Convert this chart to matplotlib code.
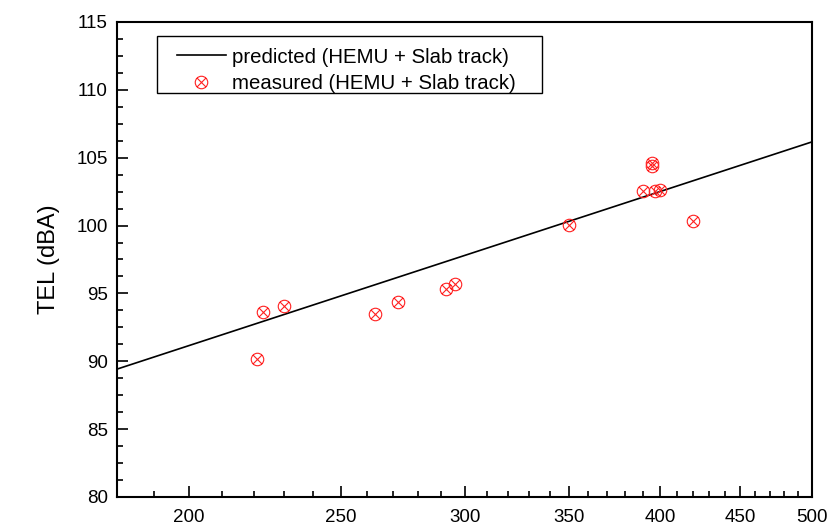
import matplotlib
matplotlib.use("Agg")
import matplotlib.pyplot as plt
from matplotlib.patches import Rectangle
from matplotlib.path import Path
from matplotlib.ticker import FixedLocator, MultipleLocator, AutoMinorLocator, NullFormatter

plt.rcParams["font.family"] = ["Liberation Sans", "DejaVu Sans"]

# predicted line (straight on log speed axis)
pred_speed = [180, 500]
pred_tel = [89.43, 106.16]

# measured points
meas_speed = [221, 223, 230, 263, 272, 292, 296, 350, 390, 397, 400, 395, 395, 420]
meas_tel = [90.2, 93.6, 94.05, 93.45, 94.35, 95.35, 95.7, 100.05, 102.55, 102.55, 102.65,
            104.6, 104.4, 100.35]

x_ticks = [200, 250, 300, 350, 400, 450, 500]
x_minor = list(range(180, 501, 10))


def circle_x_marker():
    d = 0.7071
    cross = Path([(-d, -d), (d, d), (-d, d), (d, -d)],
                 [Path.MOVETO, Path.LINETO, Path.MOVETO, Path.LINETO])
    return Path.make_compound_path(Path.unit_circle(), cross)


def main():
    fig = plt.figure(figsize=(8.37, 5.30), dpi=100)
    ax = fig.add_axes([0.1402, 0.0623, 0.8296, 0.8962])

    ax.plot(pred_speed, pred_tel, color="black", lw=1.2,
            label="predicted (HEMU + Slab track)")
    ax.plot(meas_speed, meas_tel, linestyle="none", marker=circle_x_marker(),
            markersize=9, markerfacecolor="none", markeredgecolor="#ff2020",
            markeredgewidth=0.8, label="measured (HEMU + Slab track)")

    ax.set_xscale("log")
    ax.set_xlim(180, 500)
    ax.set_ylim(80, 115)
    ax.xaxis.set_major_locator(FixedLocator(x_ticks))
    ax.xaxis.set_minor_locator(FixedLocator(x_minor))
    ax.set_xticklabels([str(t) for t in x_ticks])
    ax.xaxis.set_minor_formatter(NullFormatter())
    ax.yaxis.set_major_locator(MultipleLocator(5))
    ax.yaxis.set_minor_locator(AutoMinorLocator(4))

    ax.tick_params(which="both", direction="in", top=False, right=False,
                   width=1.2, labelsize=13.5)
    ax.tick_params(which="major", length=8)
    ax.tick_params(axis="x", which="major", pad=9)
    ax.tick_params(axis="y", which="major", pad=7)
    ax.tick_params(which="minor", length=4.5)
    for spine in ax.spines.values():
        spine.set_linewidth(1.5)

    ax.set_ylabel("TEL (dBA)", fontsize=17, labelpad=12)

    # legend box drawn separately so the margins match the original
    box = Rectangle((0.0576, 0.8505), 0.5535, 0.12, transform=ax.transAxes,
                    facecolor="white", edgecolor="black", lw=1.0, zorder=4)
    ax.add_patch(box)
    leg = ax.legend(loc="upper left", bbox_to_anchor=(0.0855, 0.946),
                    fontsize=14.7, frameon=False,
                    handlelength=2.4, handletextpad=0.3, borderpad=0,
                    labelspacing=0.38, borderaxespad=0)
    leg.set_zorder(5)

    fig.savefig("out.png", dpi=100)
    plt.close(fig)


if __name__ == "__main__":
    main()
